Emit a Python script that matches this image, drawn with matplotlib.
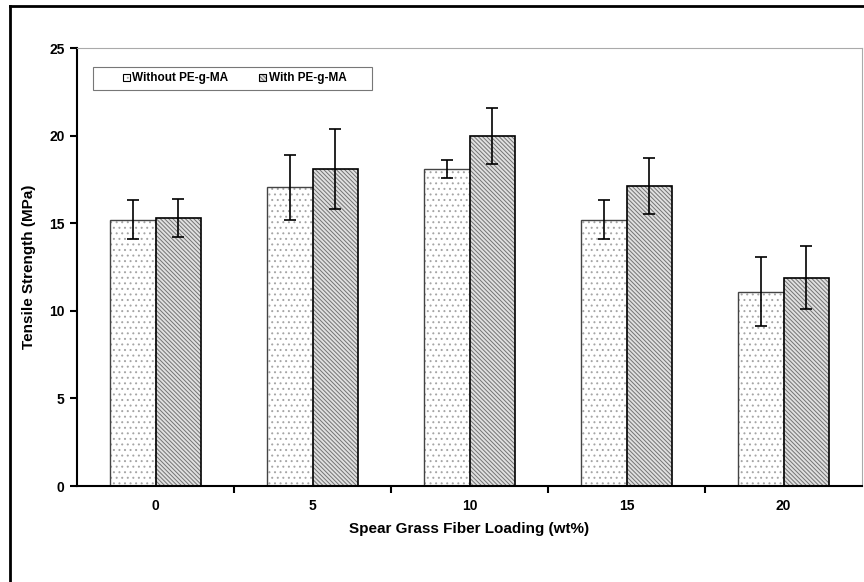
import matplotlib
matplotlib.use("Agg")
import matplotlib.pyplot as plt
import numpy as np
from matplotlib.patches import Patch, Rectangle
from matplotlib.lines import Line2D

plt.rcParams['font.family'] = ['Liberation Sans', 'DejaVu Sans']
plt.rcParams['hatch.linewidth'] = 0.7

loading = ['0', '5', '10', '15', '20']
without_mean = [15.2, 17.05, 18.1, 15.2, 11.1]
without_err = [1.1, 1.85, 0.5, 1.1, 1.95]
with_mean = [15.3, 18.1, 20.0, 17.1, 11.9]
with_err = [1.1, 2.3, 1.6, 1.6, 1.8]

DOTS = '...'
DIAG = '\\\\\\\\\\\\\\\\'
DOT_COL = (0.65, 0.65, 0.65, 1)
DIAG_COL = (0.45, 0.45, 0.45, 1)

fig = plt.figure(figsize=(8.64, 5.82), dpi=100)
ax = fig.add_axes([77 / 864, 96 / 582, 785 / 864, 438 / 582])

# outer frame of the original chart area
fig.add_artist(Line2D([10 / 864, 10 / 864], [0, 1 - 6 / 582], transform=fig.transFigure,
                      color='black', lw=2))
fig.add_artist(Line2D([10 / 864, 1], [1 - 6 / 582, 1 - 6 / 582], transform=fig.transFigure,
                      color='black', lw=2))

x = np.arange(len(loading))
w = 0.287

b1 = ax.bar(x - w / 2, without_mean, w, color='white', edgecolor='#444444',
            hatch=DOTS, linewidth=1.0, zorder=2)
for r in b1:
    r._hatch_color = DOT_COL
ax.errorbar(x - w / 2, without_mean, yerr=without_err, fmt='none', ecolor='black',
            elinewidth=1.2, capsize=4, capthick=1.2, zorder=3)

b2 = ax.bar(x + w / 2, with_mean, w, color='#e0e0e0', edgecolor='black',
            hatch=DIAG, linewidth=1.2, zorder=2)
for r in b2:
    r._hatch_color = DIAG_COL
ax.errorbar(x + w / 2, with_mean, yerr=with_err, fmt='none', ecolor='black',
            elinewidth=1.2, capsize=4, capthick=1.2, zorder=3)

ax.set_xlim(-0.5, len(loading) - 0.5)
ax.set_ylim(0, 25)
ax.set_yticks([0, 5, 10, 15, 20, 25])
ax.set_xticks(np.arange(0.5, len(loading) - 0.5, 1))
ax.set_xticklabels([])
ax.set_xticks(x, minor=True)
ax.set_xticklabels(loading, minor=True)
ax.tick_params(axis='x', which='major', direction='out', length=5, width=1.5)
ax.tick_params(axis='x', which='minor', length=0, pad=9)
ax.tick_params(axis='y', direction='out', length=5, width=1.5, pad=4)
for lab in ax.get_xticklabels(minor=True) + ax.get_yticklabels():
    lab.set_fontweight('bold')
    lab.set_fontsize(10)

ax.spines['left'].set_linewidth(1.5)
ax.spines['bottom'].set_linewidth(1.5)
ax.spines['top'].set_color('#aaaaaa')
ax.spines['right'].set_color('#aaaaaa')

ax.set_xlabel('Spear Grass Fiber Loading (wt%)', fontsize=11, fontweight='bold', labelpad=7)
ax.set_ylabel('Tensile Strength (MPa)', fontsize=11, fontweight='bold', labelpad=9)

# legend frame, wider than the entries as in the original
ax.add_patch(Rectangle((16 / 785, (486 - 90) / 438), 279 / 785, 23 / 438,
                       transform=ax.transAxes, facecolor='white', edgecolor='#777777',
                       linewidth=0.8, zorder=4))
h1 = Patch(facecolor='white', edgecolor='black', hatch=DOTS, linewidth=0.8)
h2 = Patch(facecolor='#e0e0e0', edgecolor='black', hatch=DIAG, linewidth=0.8)
h1._hatch_color = DOT_COL
h2._hatch_color = DIAG_COL
leg = ax.legend([h1, h2], ['Without PE-g-MA', 'With PE-g-MA'], ncol=2,
                loc='center left', bbox_to_anchor=(46 / 785, (486 - 78.5) / 438),
                prop={'weight': 'bold', 'size': 8.5}, handlelength=0.6, handleheight=0.6,
                handletextpad=0.2, columnspacing=2.6, frameon=False, borderpad=0,
                borderaxespad=0)
leg.set_zorder(5)

fig.savefig('out.png', dpi=100)
